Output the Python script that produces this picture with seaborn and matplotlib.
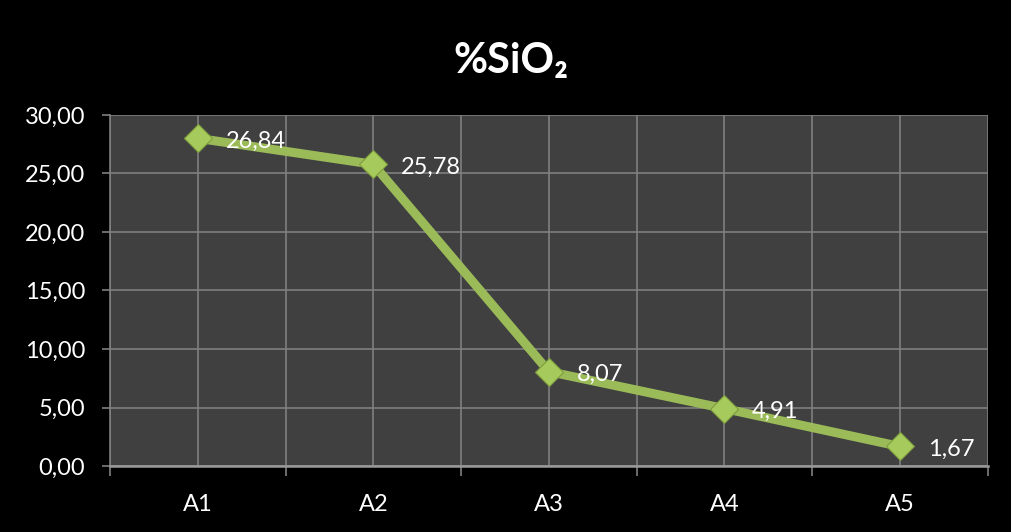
import matplotlib
matplotlib.use("Agg")
import matplotlib.pyplot as plt
import seaborn as sns
import pandas as pd
from matplotlib.ticker import FixedLocator

# dados
amostras = ["A1", "A2", "A3", "A4", "A5"]
sio2 = [28.0, 25.78, 8.07, 4.91, 1.67]
rotulos = ["26,84", "25,78", "8,07", "4,91", "1,67"]
yticks = [0, 5, 10, 15, 20, 25, 30]

df = pd.DataFrame({"Amostra": amostras, "SiO2": sio2})

sns.set_theme(style="dark")
plt.rcParams["font.family"] = ["Lato", "DejaVu Sans"]

fig = plt.figure(figsize=(10.11, 5.32), dpi=100)
fig.patch.set_facecolor("black")
ax = fig.add_axes([0.1088, 0.124, 0.8682, 0.660])
ax.set_facecolor("#404040")

sns.lineplot(data=df, x="Amostra", y="SiO2", ax=ax, color="#9BBB59",
             linewidth=6.5, marker="D", markersize=14,
             markerfacecolor="#A6CB5C", markeredgecolor="#7E9E3E",
             markeredgewidth=0.8, zorder=3)

# rótulos de dados
for i, (v, r) in enumerate(zip(sio2, rotulos)):
    ax.annotate(r, (i, v), xytext=(20, -2), textcoords="offset points",
                color="white", fontsize=17, va="center", ha="left", zorder=4)

ax.set_xlim(-0.5, len(amostras) - 0.5)
ax.set_ylim(0, 30)
ax.set_yticks(yticks)
ax.set_yticklabels([f"{t:.2f}".replace(".", ",") for t in yticks])

ax.set_xticks(range(len(amostras)))
ax.set_xticklabels(amostras)
ax.xaxis.set_minor_locator(FixedLocator([i - 0.5 for i in range(len(amostras) + 1)]))

grid_col = "#7F7F7F"
ax.grid(True, which="major", axis="both", color=grid_col, linewidth=1.2)
ax.grid(True, which="minor", axis="x", color=grid_col, linewidth=1.2)

ax.tick_params(axis="y", which="major", length=6, width=1.2, color=grid_col,
               labelcolor="white", labelsize=17, pad=12, left=True)
ax.tick_params(axis="x", which="major", length=0, labelcolor="white",
               labelsize=17, pad=20)
ax.tick_params(axis="x", which="minor", length=7, width=1.2, color=grid_col,
               bottom=True)

for s in ["top", "right"]:
    ax.spines[s].set_visible(False)
ax.spines["left"].set_color(grid_col)
ax.spines["left"].set_linewidth(1.2)
ax.spines["bottom"].set_color("#9A9A9A")
ax.spines["bottom"].set_linewidth(1.8)

ax.set_xlabel("")
ax.set_ylabel("")

fig.text(0.505, 0.885, "%SiO₂", color="white", fontsize=30,
         fontweight="bold", ha="center", va="center")

fig.savefig("out.png", dpi=100, facecolor=fig.get_facecolor())
